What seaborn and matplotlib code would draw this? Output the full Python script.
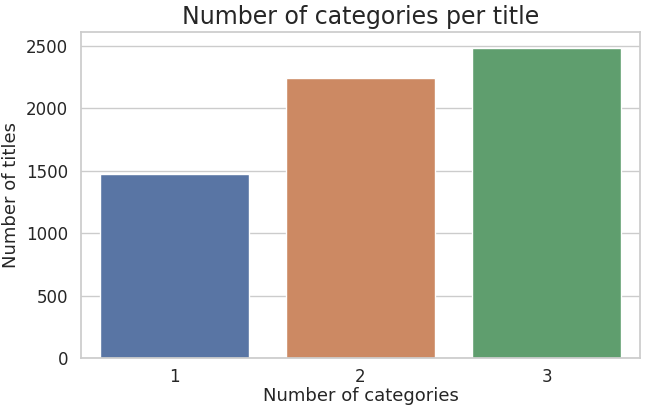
import matplotlib
matplotlib.use("Agg")
import matplotlib.pyplot as plt
import seaborn as sns
import pandas as pd

categories = ["1", "2", "3"]
counts = [1478, 2240, 2487]

sns.set_theme(style="whitegrid", font_scale=1.0)
df = pd.DataFrame({"n": categories, "count": counts})

fig, ax = plt.subplots(figsize=(6.45, 4.12), dpi=100)
sns.barplot(data=df, x="n", y="count", hue="n", palette="deep", legend=False, ax=ax, saturation=0.75)
ax.set_title("Number of categories per title", fontsize=17)
ax.set_xlabel("Number of categories", fontsize=13, labelpad=1)
ax.set_ylabel("Number of titles", fontsize=13)
ax.tick_params(labelsize=12)
ax.tick_params(axis="x", pad=1)
ax.set_yticks([0, 500, 1000, 1500, 2000, 2500])
fig.subplots_adjust(left=0.126, right=0.992, top=0.922, bottom=0.131)
fig.savefig("out.png", dpi=100)
